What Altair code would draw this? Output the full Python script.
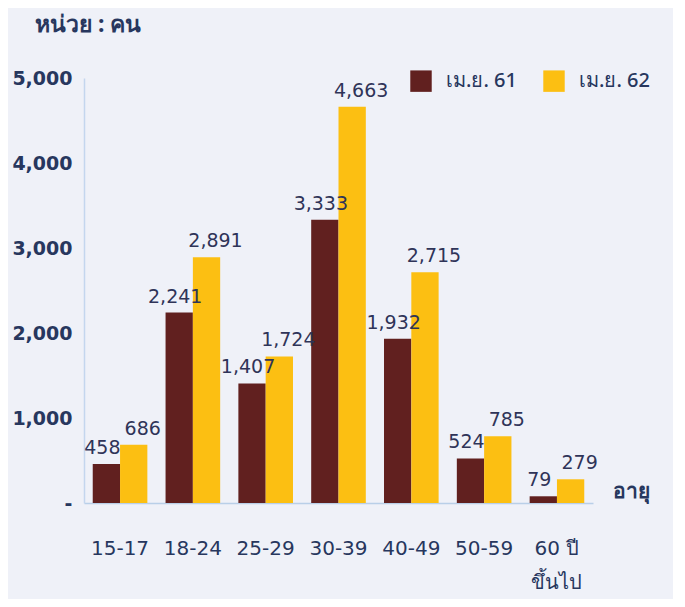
import altair as alt
import pandas as pd

ages = ["15-17", "18-24", "25-29", "30-39", "40-49", "50-59", "60 ปี"]
apr61 = [458, 2241, 1407, 3333, 1932, 524, 79]
apr62 = [686, 2891, 1724, 4663, 2715, 785, 279]
series = ["เม.ย. 61", "เม.ย. 62"]
colors = ["#61201f", "#fcbf12"]

rows = []
for a, v1, v2 in zip(ages, apr61, apr62):
    rows.append({"age": a, "series": series[0], "value": v1})
    rows.append({"age": a, "series": series[1], "value": v2})
df = pd.DataFrame(rows)

FONT = "DejaVu Sans"
THAI = "Noto Sans"
NAVY = "#27375e"

base = alt.Chart(df).encode(
    x=alt.X("age:N", sort=ages,
            scale=alt.Scale(paddingInner=0.25, paddingOuter=0.12),
            axis=alt.Axis(title="อายุ", titleX=528, titleY=-12, titleAlign="left",
                          titleBaseline="middle", titleFont=THAI, titleFontSize=21,
                          titleColor=NAVY, titleFontWeight="bold",
                          labelFont=FONT, labelFontSize=20, labelColor=NAVY,
                          labelPadding=35, labelAngle=0, ticks=False,
                          domainColor="#b9cfe8", domainWidth=1.5,
                          labelExpr="datum.value == '60 ปี' ? ['60 ปี', 'ขึ้นไป'] : datum.value",
                          labelLineHeight=34)),
    xOffset=alt.XOffset("series:N", sort=series),
)

bars = base.mark_bar().encode(
    y=alt.Y("value:Q", scale=alt.Scale(domain=[0, 5000]),
            axis=alt.Axis(title=None, values=[0, 1000, 2000, 3000, 4000, 5000],
                          labelExpr="datum.value == 0 ? '-' : format(datum.value, ',')",
                          labelFont=FONT, labelFontSize=19, labelColor=NAVY,
                          labelFontWeight="bold", labelPadding=12, ticks=False,
                          grid=False, domainColor="#c4d6ee", domainWidth=1.5)),
    color=alt.Color("series:N", sort=series,
                    scale=alt.Scale(domain=series, range=colors),
                    legend=alt.Legend(title=None, orient="none", direction="horizontal",
                                      legendX=326, legendY=-8, symbolType="square",
                                      symbolSize=460, symbolStrokeWidth=0,
                                      labelFont=THAI, labelFontSize=20, labelColor=NAVY,
                                      labelFontWeight=500,
                                      labelOffset=14, columnPadding=26)),
)

labels61 = base.mark_text(font=FONT, fontSize=19, color="#2f3458",
                          baseline="alphabetic", dy=-10, dx=-4).encode(
    y=alt.Y("value:Q"),
    text=alt.Text("value:Q", format=","),
).transform_filter(alt.datum.series == series[0])

labels62 = base.mark_text(font=FONT, fontSize=19, color="#2f3458",
                          baseline="alphabetic", dy=-10, dx=9).encode(
    y=alt.Y("value:Q"),
    text=alt.Text("value:Q", format=","),
).transform_filter(alt.datum.series == series[1])

chart = alt.layer(bars, labels61, labels62).properties(
    width=509, height=425,
    background="#eff1f8",
    padding={"left": 76, "top": 70, "right": 80, "bottom": 96},
    autosize=alt.AutoSizeParams(type="none"),
    title=alt.TitleParams("หน่วย : คน", anchor="start", frame="group", dx=-49, offset=32,
                          font=THAI, fontSize=23, fontWeight="bold", color=NAVY),
).configure_view(stroke=None)

chart.save("out.html", embed_options={"renderer": "svg", "actions": False})
